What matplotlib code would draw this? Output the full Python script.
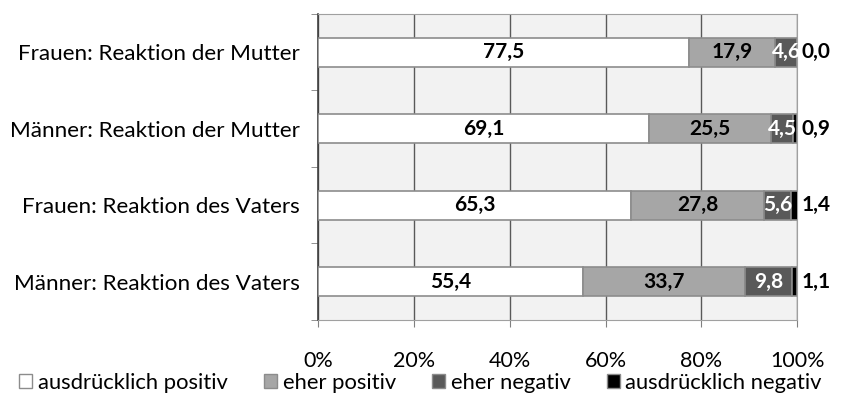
import matplotlib.pyplot as plt
from matplotlib.patches import Patch

plt.rcParams["font.family"] = ["Lato", "DejaVu Sans"]

categories = [
    "Frauen: Reaktion der Mutter",
    "Männer: Reaktion der Mutter",
    "Frauen: Reaktion des Vaters",
    "Männer: Reaktion des Vaters",
]
series_names = ["ausdrücklich positiv", "eher positiv", "eher negativ", "ausdrücklich negativ"]
sehr_positiv = [77.5, 69.1, 65.3, 55.4]
eher_positiv = [17.9, 25.5, 27.8, 33.7]
eher_negativ = [4.6, 4.5, 5.6, 9.8]
sehr_negativ = [0.0, 0.9, 1.4, 1.1]
x_ticks = [0, 20, 40, 60, 80, 100]

colors = ["#ffffff", "#a6a6a6", "#595959", "#000000"]
label_colors = ["black", "black", "white", "black"]

fig = plt.figure(figsize=(8.41, 3.97), dpi=100)
ax = fig.add_axes([0.378, 0.194, 0.570, 0.771])
ax.set_facecolor("#f2f2f2")

y = list(range(len(categories)))
left = [0.0] * len(categories)
series = [sehr_positiv, eher_positiv, eher_negativ, sehr_negativ]
for s_idx, values in enumerate(series):
    ax.barh(y, values, left=left, height=0.38, color=colors[s_idx],
            edgecolor="#8c8c8c", linewidth=1.2, zorder=3)
    for i, v in enumerate(values):
        txt = f"{v:.1f}".replace(".", ",")
        if s_idx == 3:
            ax.text(100.8, i, txt, ha="left", va="center", fontsize=15,
                    fontweight="bold", color="black", clip_on=False)
        else:
            ax.text(left[i] + v / 2, i, txt, ha="center", va="center",
                    fontsize=15, fontweight="bold", color=label_colors[s_idx],
                    zorder=4)
    left = [l + v for l, v in zip(left, values)]

ax.set_xlim(0, 100)
ax.set_ylim(len(categories) - 0.5, -0.5)
ax.set_xticks(x_ticks)
ax.set_xticklabels([f"{t}%" for t in x_ticks], fontsize=15.5)
ax.tick_params(axis="x", length=5, pad=17, color="#808080")
ax.set_yticks(y)
ax.set_yticklabels(categories, fontsize=16.2)
ax.tick_params(axis="y", length=0, pad=13)
ax.set_yticks([i - 0.5 for i in range(len(categories) + 1)], minor=True)
ax.tick_params(axis="y", which="minor", length=5, color="#808080")
ax.grid(axis="x", color="#595959", linewidth=1.0, zorder=1)
for side in ["top", "right", "bottom"]:
    ax.spines[side].set_color("#a0a0a0")
ax.spines["left"].set_color("#404040")
ax.spines["left"].set_linewidth(1.2)

handles = [Patch(facecolor=c, edgecolor="#8c8c8c", label=n) for c, n in zip(colors, series_names)]
fig.legend(handles=handles, loc="center", bbox_to_anchor=(0.5, 0.035), ncol=4,
           frameon=False, fontsize=15.8, handlelength=0.6, handleheight=0.6,
           handletextpad=0.25, columnspacing=1.65)

fig.savefig("out.png", dpi=100)
